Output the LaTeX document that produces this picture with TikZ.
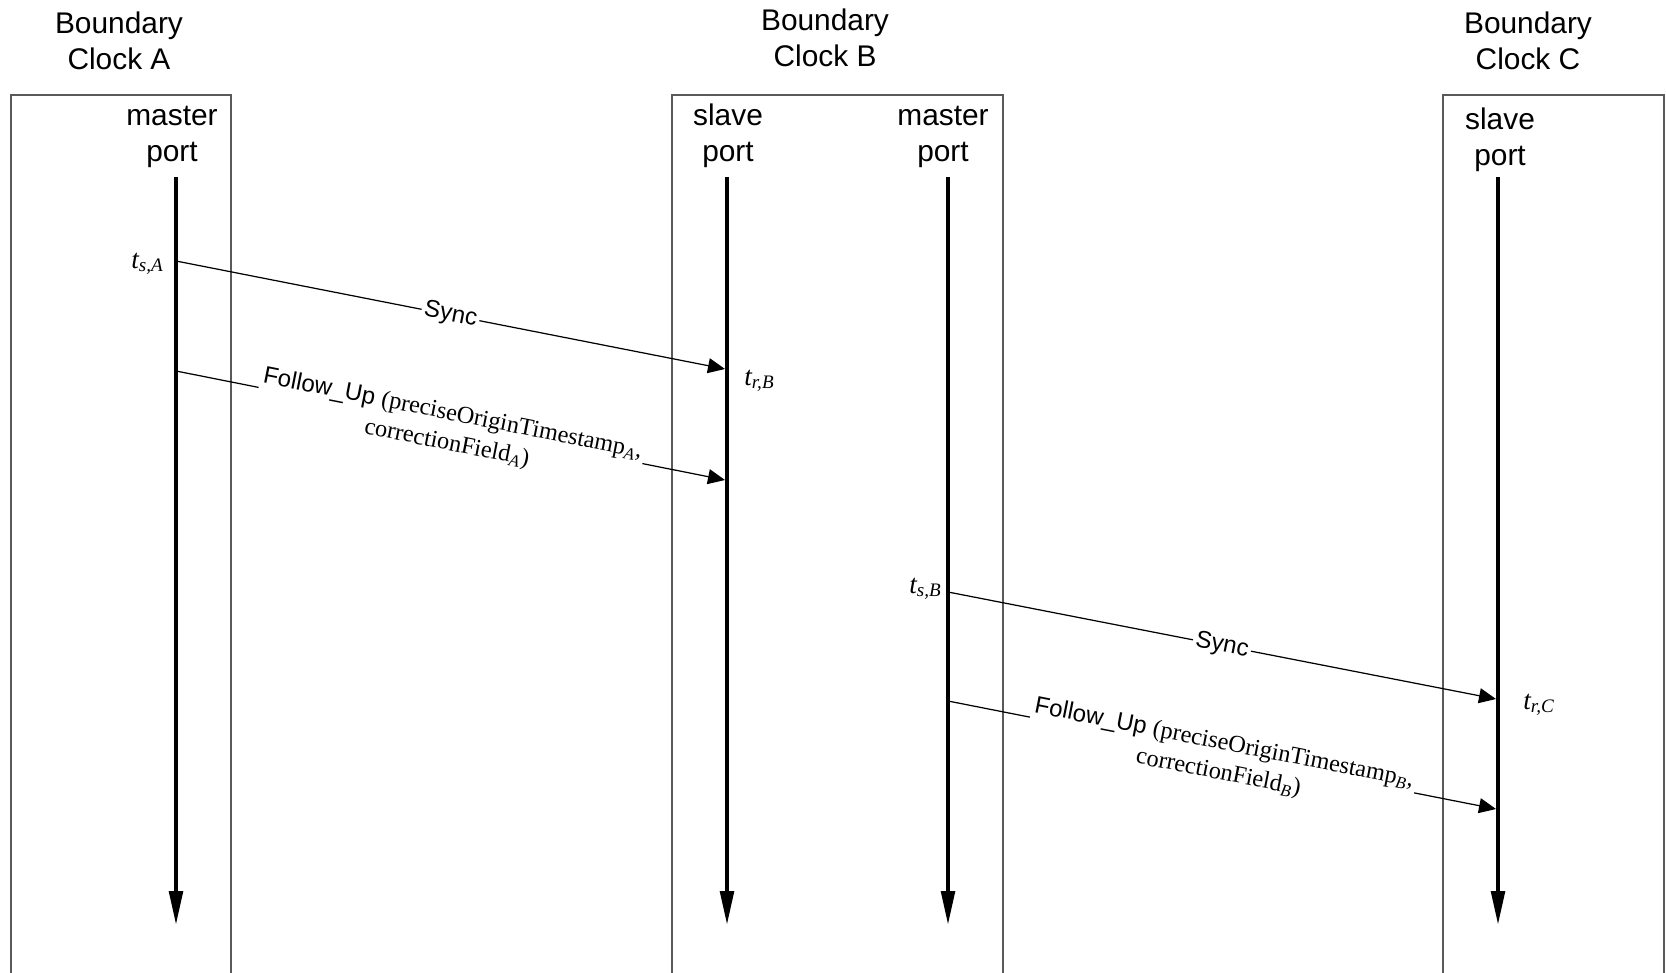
\documentclass[tikz,border=0pt]{standalone}
\usepackage{fontspec}
\setmainfont{Liberation Sans}
\newfontfamily\tms{Liberation Serif}
\usetikzlibrary{arrows.meta}
\tikzset {
  >=Stealth,
  every node/.style={font=\fontsize{17}{20.5}\selectfont, align=center},
  portlabel/.style={font=\fontsize{17}{21}\selectfont, anchor=base},
  clockbox/.style={draw=black!65, line width=0.6pt},
  lifeline/.style={line width=2.3pt, -{Triangle[length=0.68cm,width=0.27cm]}},
  msg/.style={line width=0.7pt, -{Triangle[length=0.34cm,width=0.3cm]}},
  msglabel/.style={sloped, fill=white, inner sep=1.5pt,
    font=\fontsize{13.7}{17}\selectfont},
  % two-line label: first line rides on the arrow
  fuplabel/.style={msglabel, anchor=base, yshift=-14pt},
  stamp/.style={inner sep=0pt, font=\tms\itshape\fontsize{15.5}{18}\selectfont},
}
\newcommand{\serifpart}{\tms\fontsize{13.8}{17}\selectfont}

\begin{document}
\begin{tikzpicture}[x=0.02cm,y=-0.02cm]
  \useasboundingbox (0,0) rectangle (1666,973);
  % the clock boxes run on past the bottom edge
  \draw[clockbox] (11,95) rectangle (231,1000);
  \draw[clockbox] (672,95) rectangle (1003,1000);
  \draw[clockbox] (1443,95) rectangle (1664,1000);
  % anchor=base sits on the last line
  \node (clkA) at (119,70)[anchor=base]{Boundary\\Clock A};
  \node (clkB) at (825,67)[anchor=base]{Boundary\\Clock B};
  \node (clkC) at (1528,70)[anchor=base]{Boundary\\Clock C};
  \node (portA) at (172,162)[portlabel]{master\\port};
  \node (portBs) at (728,162)[portlabel]{slave\\port};
  \node (portBm) at (943,162)[portlabel]{master\\port};
  \node (portC) at (1500,166)[portlabel]{slave\\port};
  % time lines of the ports
  \coordinate (topA) at (176,177);
  \coordinate (endA) at (176,925);
  \coordinate (topBs) at (727,177);
  \coordinate (endBs) at (727,925);
  \coordinate (topBm) at (948,177);
  \coordinate (endBm) at (948,925);
  \coordinate (topC) at (1498,177);
  \coordinate (endC) at (1498,925);
  \draw[lifeline] (topA) -- (endA);
  \draw[lifeline] (topBs) -- (endBs);
  \draw[lifeline] (topBm) -- (endBm);
  \draw[lifeline] (topC) -- (endC);
  % A -> B
  \coordinate (sA) at (176,261);
  \coordinate (rB) at (725,369);
  \coordinate (fsA) at (176,371);
  \coordinate (frB) at (725,480);
  \draw[msg] (sA) -- node[msglabel] (syncA) {Sync} (rB);
  \draw[msg] (fsA) -- node[fuplabel] (fupA)
    {Follow\_Up {\serifpart(preciseOriginTimestamp\textsubscript{\itshape A},}\\
     {\serifpart correctionField\textsubscript{\itshape A})}} (frB);
  \node[stamp, anchor=base east] (lblTsA) at (164,268) {t\textsubscript{s,A}};
  \node[stamp, anchor=base west] (lblTrB) at (744,385) {t\textsubscript{r,B}};
  % B -> C
  \coordinate (sB) at (948,592);
  \coordinate (rC) at (1496,699);
  \coordinate (fsB) at (948,701);
  \coordinate (frC) at (1496,809);
  \draw[msg] (sB) -- node[msglabel] (syncB) {Sync} (rC);
  \draw[msg] (fsB) -- node[fuplabel] (fupB)
    {Follow\_Up {\serifpart(preciseOriginTimestamp\textsubscript{\itshape B},}\\
     {\serifpart correctionField\textsubscript{\itshape B})}} (frC);
  \node[stamp, anchor=base east] (lblTsB) at (942,593) {t\textsubscript{s,B}};
  \node[stamp, anchor=base west] (lblTrC) at (1523,709) {t\textsubscript{r,C}};
\end{tikzpicture}
\end{document}
